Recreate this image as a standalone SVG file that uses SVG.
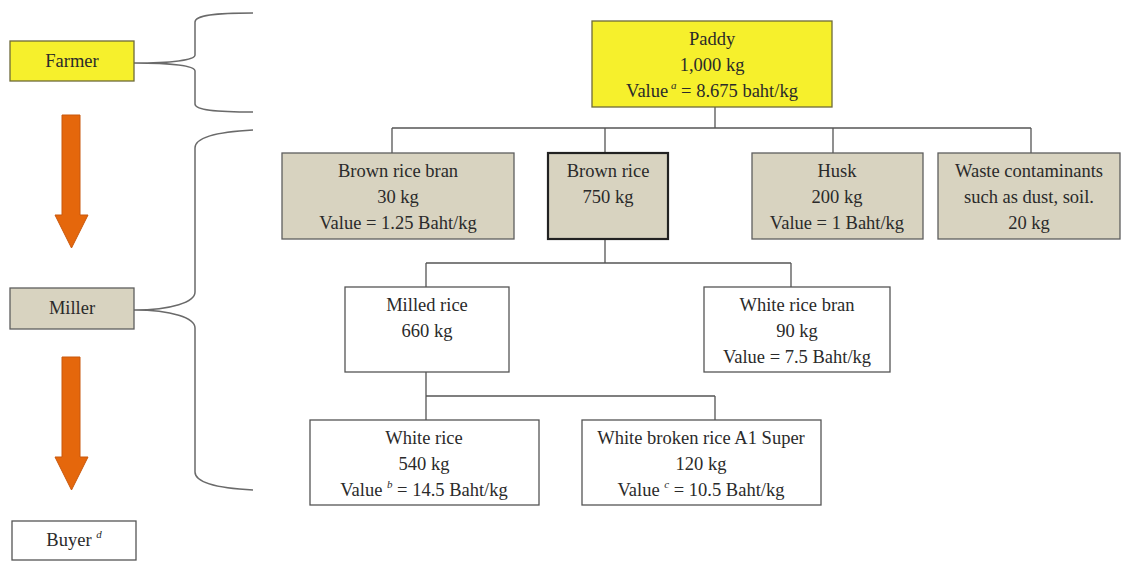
<svg xmlns="http://www.w3.org/2000/svg" width="1123" height="562" viewBox="0 0 1123 562">
<style>
  text { font-family: "Liberation Serif", "Times New Roman", serif; font-size: 18.5px; fill: #2a2a2a; text-anchor: middle; }
  .sup { font-size: 11px; font-style: italic; }
  .yellow { fill: #f6f02c; stroke: #6e6a3a; stroke-width: 1.3; }
  .tan { fill: #d8d3c0; stroke: #5e5e5e; stroke-width: 1.3; }
  .tanbold { fill: #d8d3c0; stroke: #222; stroke-width: 2.2; }
  .white { fill: #ffffff; stroke: #555; stroke-width: 1.3; }
  .conn { fill: none; stroke: #555; stroke-width: 1.3; }
  .brace { fill: none; stroke: #6a6a6a; stroke-width: 1.5; }
  .arrow { fill: #e5670c; stroke: #c9580c; stroke-width: 1; }
</style>
<rect width="1123" height="562" fill="#ffffff"/>

<g id="connectors">
  <path class="conn" d="M715,107 V128 M392,128 H1031 M392,128 V153 M605,128 V153 M833,128 V153 M1031,128 V153"/>
  <path class="conn" d="M605,239 V263 M426,263 H791 M426,263 V287 M791,263 V287"/>
  <path class="conn" d="M426,372 V396 M426,396 H715 M426,396 V420 M715,396 V420"/>
  <path class="brace" d="M253,13 C215,13 195,15 195,22 L195,55 C195,60 172,63 134,63 C172,63 195,66 195,71 L195,104 C195,110 215,112 253,112"/>
  <path class="brace" d="M253,130 C215,132 195,138 195,148 L195,292 C195,302 172,310 134,310 C172,310 195,318 195,328 L195,472 C195,482 215,488 253,490"/>
  <polygon class="arrow" points="62,115 80,115 80,215 88,215 71.5,248 55,215 62,215"/>
  <polygon class="arrow" points="62,357 80,357 80,457 88,457 71.5,490 55,457 62,457"/>
</g>

<g id="farmer">
  <rect class="yellow" x="10" y="41" width="124" height="40"/>
  <text x="72" y="67">Farmer</text>
</g>
<g id="miller">
  <rect class="tan" x="10" y="288" width="124" height="41"/>
  <text x="72" y="314">Miller</text>
</g>
<g id="buyer">
  <rect class="white" x="12" y="521" width="124" height="39"/>
  <text x="74" y="546">Buyer <tspan class="sup" dy="-8">d</tspan></text>
</g>

<g id="paddy">
  <rect class="yellow" x="592" y="21" width="240" height="86"/>
  <text x="712" y="45">Paddy</text>
  <text x="712" y="71">1,000 kg</text>
  <text x="712" y="97">Value<tspan class="sup" dy="-8"> a</tspan><tspan dy="8"> = 8.675 baht/kg</tspan></text>
</g>

<g id="brown-rice-bran">
  <rect class="tan" x="282" y="153" width="232" height="86"/>
  <text x="398" y="177">Brown rice bran</text>
  <text x="398" y="203">30 kg</text>
  <text x="398" y="229">Value = 1.25 Baht/kg</text>
</g>
<g id="brown-rice">
  <rect class="tanbold" x="548" y="153" width="120" height="86"/>
  <text x="608" y="177">Brown rice</text>
  <text x="608" y="203">750 kg</text>
</g>
<g id="husk">
  <rect class="tan" x="752" y="153" width="171" height="86"/>
  <text x="837" y="177">Husk</text>
  <text x="837" y="203">200 kg</text>
  <text x="837" y="229">Value = 1 Baht/kg</text>
</g>
<g id="waste">
  <rect class="tan" x="938" y="153" width="182" height="86"/>
  <text x="1029" y="177">Waste contaminants</text>
  <text x="1029" y="203">such as dust, soil.</text>
  <text x="1029" y="229">20 kg</text>
</g>

<g id="milled-rice">
  <rect class="white" x="345" y="287" width="164" height="85"/>
  <text x="427" y="311">Milled rice</text>
  <text x="427" y="337">660 kg</text>
</g>
<g id="white-rice-bran">
  <rect class="white" x="704" y="287" width="186" height="85"/>
  <text x="797" y="311">White rice bran</text>
  <text x="797" y="337">90 kg</text>
  <text x="797" y="363">Value = 7.5 Baht/kg</text>
</g>

<g id="white-rice">
  <rect class="white" x="310" y="420" width="229" height="85"/>
  <text x="424" y="444">White rice</text>
  <text x="424" y="470">540 kg</text>
  <text x="424" y="496">Value <tspan class="sup" dy="-8">b</tspan><tspan dy="8"> = 14.5 Baht/kg</tspan></text>
</g>
<g id="white-broken-rice">
  <rect class="white" x="582" y="420" width="239" height="85"/>
  <text x="701" y="444">White broken rice A1 Super</text>
  <text x="701" y="470">120 kg</text>
  <text x="701" y="496">Value <tspan class="sup" dy="-8">c</tspan><tspan dy="8"> = 10.5 Baht/kg</tspan></text>
</g>
</svg>
